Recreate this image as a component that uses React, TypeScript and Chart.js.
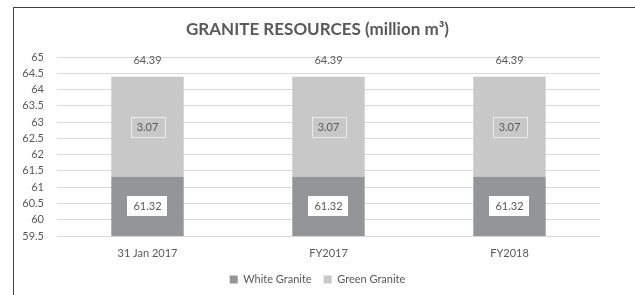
import React, { useEffect, useRef } from "react";
import { Chart, registerables } from "chart.js";

Chart.register(...registerables);

const categories = ["31 Jan 2017", "FY2017", "FY2018"];
const whiteGranite = [61.32, 61.32, 61.32];
const greenGranite = [3.07, 3.07, 3.07];
const totals = [64.39, 64.39, 64.39];
const titleText = "GRANITE RESOURCES (million m\u00B3)";

const FONT = "Lato, 'Open Sans', sans-serif";
const TEXT = "#595959";

const centerBoxes = {
  id: "centerBoxes",
  afterLayout(chart: any) {
    const shift = (chart.width - (chart.legend.right - chart.legend.left)) / 2 - chart.legend.left;
    [chart.legend, chart.titleBlock].forEach((b: any) => {
      if (b) {
        b.left += shift;
        b.right += shift;
      }
    });
  },
};

const labelPlugin = {
  id: "segLabels",
  afterDatasetsDraw(chart: any) {
    const ctx = chart.ctx;
    const area = chart.chartArea;
    const m0 = chart.getDatasetMeta(0);
    const m1 = chart.getDatasetMeta(1);
    ctx.save();
    ctx.font = `11px ${FONT}`;
    ctx.textAlign = "center";
    ctx.textBaseline = "middle";
    categories.forEach((_, i) => {
      const b0 = m0.data[i];
      const b1 = m1.data[i];
      const top0 = b0.y;
      const bot0 = Math.min(b0.base, area.bottom);
      const cy0 = (top0 + bot0) / 2;
      const t0 = whiteGranite[i].toFixed(2);
      const w0 = ctx.measureText(t0).width + 12;
      ctx.fillStyle = "#ffffff";
      ctx.fillRect(Math.round(b0.x - w0 / 2), Math.round(cy0 - 10), Math.round(w0), 20);
      ctx.fillStyle = TEXT;
      ctx.fillText(t0, b0.x, cy0 + 0.5);
      const cy1 = (b1.y + b1.base) / 2;
      const t1 = greenGranite[i].toFixed(2);
      const w1 = ctx.measureText(t1).width + 12;
      ctx.strokeStyle = "#ececec";
      ctx.lineWidth = 1;
      ctx.strokeRect(Math.round(b1.x - w1 / 2) + 0.5, Math.round(cy1 - 10) + 0.5, Math.round(w1), 20);
      ctx.fillStyle = TEXT;
      ctx.fillText(t1, b1.x, cy1 + 0.5);
      ctx.fillText(totals[i].toFixed(2), b1.x, b1.y - 16);
    });
    ctx.restore();
  },
};

export default function App() {
  const ref = useRef<HTMLCanvasElement>(null);
  useEffect(() => {
    const chart = new Chart(ref.current!, {
      type: "bar",
      data: {
        labels: categories,
        datasets: [
          {
            label: "White Granite",
            data: whiteGranite,
            backgroundColor: "#939598",
            barPercentage: 0.4,
            categoryPercentage: 1,
          },
          {
            label: "Green Granite",
            data: greenGranite,
            backgroundColor: "#c8c8c8",
            barPercentage: 0.4,
            categoryPercentage: 1,
          },
        ],
      },
      options: {
        responsive: false,
        animation: false,
        devicePixelRatio: 1,
        layout: { padding: { left: 0, right: 35, top: 0, bottom: 0 } },
        plugins: {
          title: {
            display: true,
            text: titleText,
            color: TEXT,
            font: { family: FONT, size: 17, weight: "bold" },
            padding: { top: 19, bottom: 17.6 },
          },
          legend: {
            position: "bottom",
            labels: {
              boxWidth: 8,
              boxHeight: 8,
              color: TEXT,
              font: { family: FONT, size: 11 },
              padding: 12,
            },
          },
          tooltip: { enabled: false },
        },
        scales: {
          x: {
            stacked: true,
            grid: { display: false, drawTicks: false },
            border: { display: false },
            ticks: { color: TEXT, font: { family: FONT, size: 11 }, padding: 11 },
            afterFit: (s: any) => {
              s.height = 26;
            },
          },
          y: {
            stacked: true,
            min: 59.5,
            max: 65,
            grid: { color: "#d9d9d9", drawTicks: false },
            border: { display: false },
            ticks: {
              stepSize: 0.5,
              autoSkip: false,
              color: TEXT,
              font: { family: FONT, size: 11 },
              padding: 13,
              callback: (v: any) => String(Math.round(Number(v) * 10) / 10),
            },
            afterFit: (s: any) => {
              s.width = 57;
            },
          },
        },
      },
      plugins: [labelPlugin, centerBoxes],
    });
    return () => chart.destroy();
  }, []);
  return (
    <div style={{ position: "absolute", left: 0, top: 0, width: 635, height: 295, background: "#fff" }}>
      <canvas ref={ref} width={635} height={295} style={{ position: "absolute", left: 0, top: 0 }} />
      <div
        style={{
          position: "absolute",
          left: 13,
          top: 7,
          width: 622,
          height: 288,
          borderTop: "1px solid #404040",
          borderLeft: "1px solid #404040",
          boxSizing: "border-box",
          pointerEvents: "none",
        }}
      />
    </div>
  );
}
